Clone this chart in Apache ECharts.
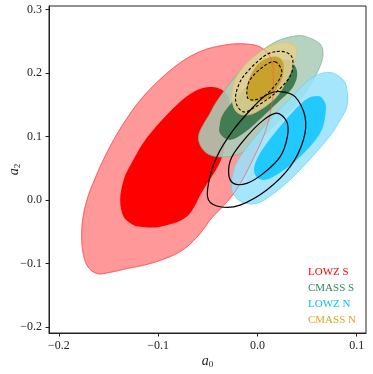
<!DOCTYPE html>
<html>
<head>
<meta charset="utf-8">
<script src="https://cdn.jsdelivr.net/npm/echarts@6/dist/echarts.min.js"></script>
<style>
html, body { margin: 0; padding: 0; background: #fff; }
#chart { width: 373px; height: 374px; }
</style>
</head>
<body>
<div id="chart"></div>
<script>
// axis ticks
const xTicks = [-0.2, -0.1, 0.0, 0.1];
const yTicks = [-0.2, -0.1, 0.0, 0.1, 0.2, 0.3];
const sampleNames = ['LOWZ S', 'CMASS S', 'LOWZ N', 'CMASS N'];

// contour outlines, [a0, a2]
const lowzS95 = [[-0.0309, 0.2447], [-0.0107, 0.2458], [0.004, 0.240], [0.0144, 0.221], [0.016, 0.19], [0.0155, 0.163], [0.012, 0.13], [0.006, 0.1], [-0.004, 0.066], [-0.014, 0.035], [-0.025, 0.008], [-0.036, -0.012], [-0.046, -0.028], [-0.0577, -0.0526], [-0.0711, -0.0737], [-0.0846, -0.0868], [-0.108, -0.1], [-0.1315, -0.108], [-0.1483, -0.1138], [-0.1617, -0.1158], [-0.1718, -0.1026], [-0.1765, -0.0737], [-0.1765, -0.0368], [-0.1718, 0], [-0.1634, 0.0346], [-0.152, 0.0737], [-0.136, 0.118], [-0.1148, 0.1634], [-0.0846, 0.2085], [-0.0577, 0.234]];
const lowzS68 = [[-0.045, 0.178], [-0.03, 0.165], [-0.028, 0.13], [-0.032, 0.095], [-0.0376, 0.06], [-0.0547, 0.0158], [-0.071, -0.026], [-0.098, -0.042], [-0.1181, -0.042], [-0.1248, -0.0395], [-0.1348, -0.0263], [-0.1383, 0], [-0.1348, 0.0316], [-0.1266, 0.0586], [-0.1114, 0.098], [-0.0846, 0.145], [-0.0627, 0.1717]];
const cmassS95 = [[0.0362, 0.258], [0.0497, 0.257], [0.0648, 0.242], [0.063, 0.2105], [0.043, 0.158], [0.016, 0.1158], [-0.0107, 0.079], [-0.031, 0.068], [-0.051, 0.0737], [-0.0594, 0.1], [-0.0476, 0.137], [-0.0376, 0.163], [-0.0107, 0.2158], [0.016, 0.2474]];
const cmassS68 = [[0.0295, 0.221], [0.0396, 0.205], [0.0362, 0.179], [0.018, 0.15], [-0.004, 0.118], [-0.019, 0.1], [-0.029, 0.095], [-0.0376, 0.105], [-0.038, 0.118], [-0.034, 0.137], [-0.0175, 0.1684], [0.0094, 0.2105]];
const lowzN95 = [[0.073, 0.201], [0.0866, 0.189], [0.0905, 0.17], [0.09, 0.147], [0.083, 0.125], [0.0698, 0.0947], [0.0362, 0.0368], [0.0094, 0.0026], [-0.004, -0.006], [-0.0141, -0.004], [-0.0208, 0.0026], [-0.0258, 0.0158], [-0.025, 0.04], [-0.0175, 0.068], [0.0094, 0.121], [0.0362, 0.165], [0.055, 0.193]];
const lowzN68 = [[0.0597, 0.164], [0.0664, 0.158], [0.069, 0.142], [0.063, 0.105], [0.0396, 0.063], [0.016, 0.0368], [0.0027, 0.0326], [-0.0034, 0.047], [0.0027, 0.0737], [0.0228, 0.1158], [0.046, 0.155]];
const cmassN95 = [[0.0228, 0.2474], [0.0362, 0.2447], [0.0396, 0.2316], [0.033, 0.2], [0.0195, 0.163], [-0.0007, 0.139], [-0.014, 0.134], [-0.0225, 0.142], [-0.0258, 0.163], [-0.0225, 0.1895], [-0.0107, 0.2158], [0.006, 0.237]];
const cmassN68 = [[0.0195, 0.226], [0.026, 0.2158], [0.0245, 0.1895], [0.0128, 0.163], [-0.0007, 0.155], [-0.009, 0.1605], [-0.0107, 0.179], [-0.004, 0.205], [0.006, 0.221]];
// dashed pair inside CMASS N
const dashOuter = [[0.0195, 0.234], [0.03, 0.232], [0.0356, 0.221], [0.033, 0.195], [0.016, 0.166], [-0.004, 0.145], [-0.014, 0.139], [-0.0208, 0.15], [-0.0215, 0.1684], [-0.014, 0.195], [0.006, 0.226]];
const dashInner = [[0.0178, 0.218], [0.0245, 0.2026], [0.0195, 0.184], [0.006, 0.163], [-0.0074, 0.158], [-0.0107, 0.1684], [-0.0074, 0.1895], [0.006, 0.2105]];
// solid black pair
const lineOuter = [[0.0228, 0.171], [0.0379, 0.163], [0.048, 0.1316], [0.0463, 0.0947], [0.033, 0.0526], [0.0094, 0.0158], [-0.0175, -0.0079], [-0.0376, -0.0105], [-0.0493, 0], [-0.0493, 0.0263], [-0.041, 0.068], [-0.0242, 0.1105], [-0.004, 0.147], [0.0094, 0.166]];
const lineInner = [[0.0195, 0.137], [0.0295, 0.1237], [0.0302, 0.1], [0.0228, 0.068], [0.006, 0.042], [-0.0107, 0.0263], [-0.0242, 0.0263], [-0.029, 0.042], [-0.0258, 0.068], [-0.0107, 0.1], [0.006, 0.126]];

const fmt = v => (v < 0 ? '\u2212' : '') + Math.abs(v).toFixed(1);

// closed catmull-rom curve through the projected vertices, as svg path data
function closedPath(pts) {
	const n = pts.length;
	let d = 'M' + pts[0][0] + ' ' + pts[0][1];
	for (let i = 0; i < n; i++) {
		const p0 = pts[(i - 1 + n) % n], p1 = pts[i], p2 = pts[(i + 1) % n], p3 = pts[(i + 2) % n];
		const c1x = p1[0] + (p2[0] - p0[0]) / 6, c1y = p1[1] + (p2[1] - p0[1]) / 6;
		const c2x = p2[0] - (p3[0] - p1[0]) / 6, c2y = p2[1] - (p3[1] - p1[1]) / 6;
		d += 'C' + c1x + ' ' + c1y + ' ' + c2x + ' ' + c2y + ' ' + p2[0] + ' ' + p2[1];
	}
	return d + 'Z';
}

function contour(name, levels, styles) {
	return {
		type: 'custom',
		name: name,
		silent: true,
		data: levels.map(l => l[0]),
		renderItem: function (params, api) {
			const i = params.dataIndex;
			return {
				type: 'path',
				shape: { pathData: closedPath(levels[i].map(p => api.coord(p))) },
				style: styles[i]
			};
		}
	};
}

const axisName = {
	rich: {
		a: { fontFamily: 'Liberation Serif', fontStyle: 'italic', fontSize: 14, color: '#222' },
		s: { fontFamily: 'Liberation Serif', fontSize: 9, color: '#222', padding: [7, 0, 0, 0] }
	}
};

const chart = echarts.init(document.getElementById('chart'));
chart.setOption({
	animation: false,
	grid: { left: 49, right: 7, top: 6, bottom: 41, show: true, borderColor: '#222', borderWidth: 1, outerBoundsMode: 'none', containLabel: false },
	legend: {
		orient: 'vertical',
		left: 298,
		top: 262,
		icon: 'none',
		itemWidth: 0,
		itemHeight: 11,
		itemGap: 5,
		selectedMode: false,
		textStyle: { fontFamily: 'Liberation Serif', fontSize: 11 },
		data: [
			{ name: sampleNames[0], textStyle: { color: '#ff0000' } },
			{ name: sampleNames[1], textStyle: { color: '#2e8b57' } },
			{ name: sampleNames[2], textStyle: { color: '#00bfff' } },
			{ name: sampleNames[3], textStyle: { color: '#daa520' } }
		]
	},
	xAxis: {
		type: 'value',
		min: -0.21,
		max: 0.1094,
		name: '{a|a}{s|0}',
		nameLocation: 'middle',
		nameGap: 20,
		nameMoveOverlap: false,
		nameTextStyle: axisName,
		axisLine: { onZero: false, lineStyle: { color: '#222' } },
		axisTick: { length: 3.5, customValues: xTicks, lineStyle: { color: '#222' } },
		axisLabel: { customValues: xTicks, formatter: fmt, margin: 7, fontFamily: 'Liberation Serif', fontSize: 12, color: '#222' },
		splitLine: { show: false }
	},
	yAxis: {
		type: 'value',
		min: -0.2095,
		max: 0.3058,
		name: '{a|a}{s|2}',
		nameLocation: 'middle',
		nameGap: 27,
		nameRotate: 90,
		nameMoveOverlap: false,
		nameTextStyle: axisName,
		axisLine: { onZero: false, lineStyle: { color: '#222' } },
		axisTick: { length: 3.5, customValues: yTicks, lineStyle: { color: '#222' } },
		axisLabel: { customValues: yTicks, formatter: fmt, margin: 7, fontFamily: 'Liberation Serif', fontSize: 12, color: '#222' },
		splitLine: { show: false }
	},
	series: [
		contour(sampleNames[0], [lowzS95, lowzS68], [
			{ fill: '#ff9999', stroke: '#ff6f6f', lineWidth: 0.8 },
			{ fill: '#ff0000' }
		]),
		contour(sampleNames[1], [cmassS95, cmassS68], [
			{ fill: 'rgba(172,205,186,0.88)', stroke: 'rgba(120,175,140,0.9)', lineWidth: 0.8 },
			{ fill: 'rgba(61,122,80,0.97)' }
		]),
		contour(sampleNames[2], [lowzN95, lowzN68], [
			{ fill: 'rgba(150,226,252,0.85)', stroke: 'rgba(90,210,250,0.9)', lineWidth: 0.8 },
			{ fill: 'rgba(30,200,255,0.97)' }
		]),
		contour(sampleNames[3], [cmassN95, cmassN68], [
			{ fill: 'rgba(228,210,143,0.88)', stroke: 'rgba(220,195,110,0.9)', lineWidth: 0.8 },
			{ fill: 'rgba(200,160,40,0.95)' }
		]),
		contour('', [lowzS95], [{ fill: 'none', stroke: 'rgba(255,80,80,0.75)', lineWidth: 0.8 }]),
		contour('', [lineOuter, lineInner], [
			{ fill: 'none', stroke: '#000', lineWidth: 1.2 },
			{ fill: 'none', stroke: '#000', lineWidth: 1.2 }
		]),
		contour('', [dashOuter, dashInner], [
			{ fill: 'none', stroke: '#000', lineWidth: 1.1, lineDash: [3, 2] },
			{ fill: 'none', stroke: '#000', lineWidth: 1.1, lineDash: [3, 2] }
		])
	]
});
</script>
</body>
</html>
